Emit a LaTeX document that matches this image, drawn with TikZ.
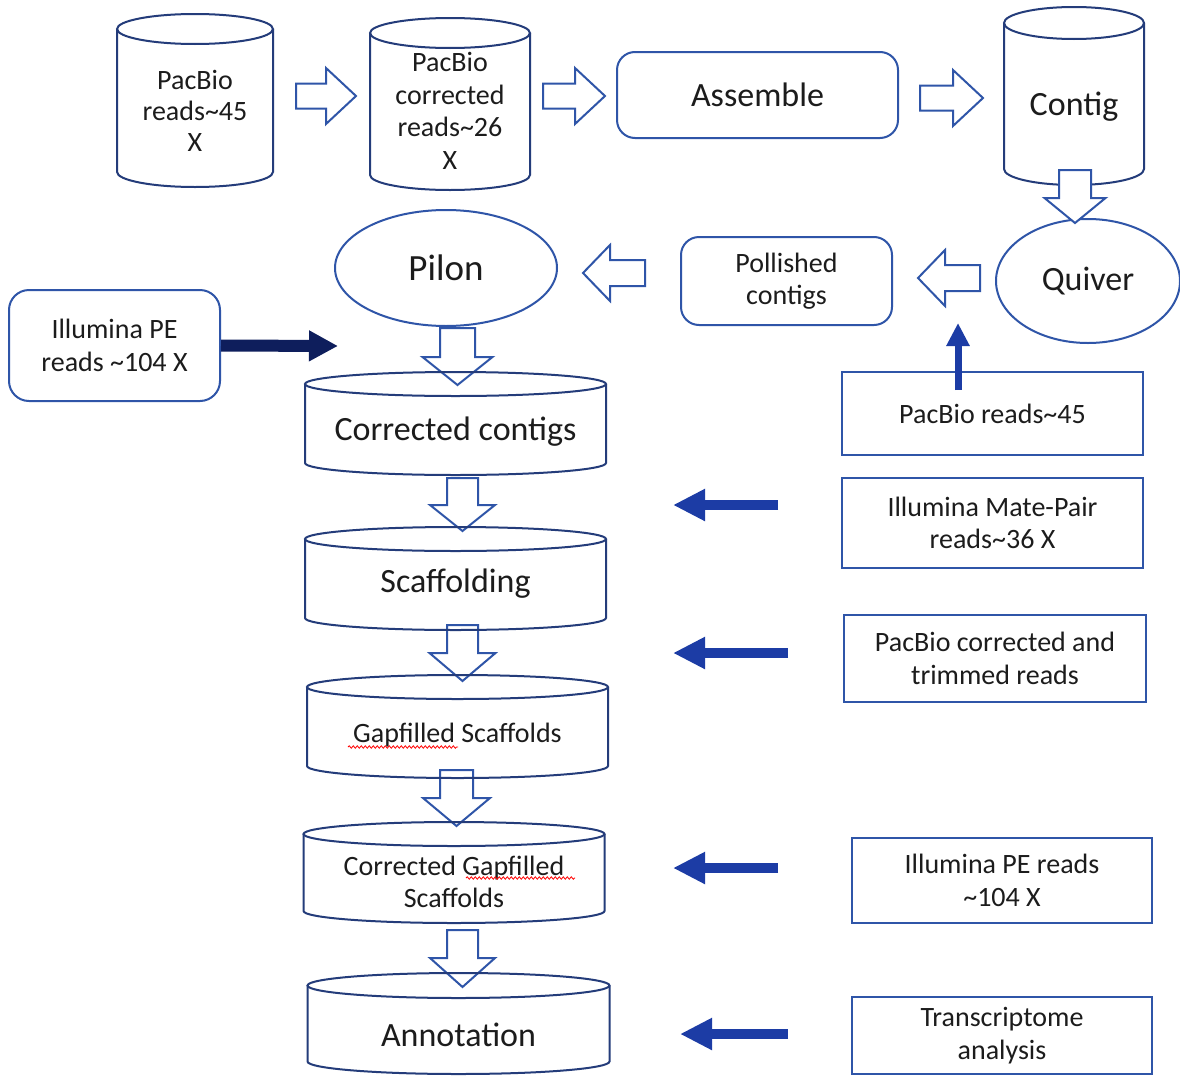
\documentclass[tikz,border=0pt]{standalone}
\usepackage{fontspec}
\setmainfont{Carlito}
\usetikzlibrary{arrows.meta,shapes.geometric,decorations.pathmorphing}
\definecolor{cylcol}{RGB}{36,60,122}
\definecolor{boxcol}{RGB}{47,85,168}
\definecolor{fillblue}{RGB}{28,60,165}
\definecolor{navy}{RGB}{14,30,92}
\definecolor{txtcol}{RGB}{28,28,28}
\newcommand\bigtxt{\fontsize{34}{40}\selectfont}
\newcommand\midtxt{\fontsize{28}{32.5}\selectfont}
\tikzset{
  cylline/.style={draw=cylcol, line width=2pt},
  txtnode/.style={align=center, text=txtcol, inner sep=0pt},
  hollow/.style={draw=boxcol, line width=2pt, fill=white, line join=miter},
  rbox/.style={draw=boxcol, line width=2pt, rounded corners=18pt, align=center, text=txtcol, inner sep=0pt},
  sbox/.style={draw=boxcol, line width=2pt, align=center, text=txtcol, inner sep=0pt, font=\midtxt},
  ellbox/.style={ellipse, draw=boxcol, line width=2pt, align=center, text=txtcol, inner sep=0pt},
  fatarrow/.style={draw=fillblue, line width=10pt, -{Triangle[width=30pt,length=32pt]}},
  navyarrow/.style={draw=navy, line width=12pt, -{Triangle[width=29pt,length=29pt]}},
  uparrow/.style={draw=fillblue, line width=7pt, -{Triangle[width=22pt,length=23pt]}},
  squiggle/.style={draw=red, line width=0.8pt, decorate, decoration={snake, amplitude=1.2pt, segment length=4pt}}
}
% cylinder: name, cx, ytop, ybot, half width, ry, text y, font, text
\newcommand\dbcyl[9]{%
  \draw[cylline] ({#2-#5},{#3+#6}) -- ({#2-#5},{#4-#6}) arc[start angle=180,end angle=360,x radius=#5pt,y radius=#6pt] -- ({#2+#5},{#3+#6});
  \draw[cylline] (#2,{#3+#6}) ellipse[x radius=#5pt,y radius=#6pt];
  \node[txtnode, font=#8] (#1) at (#2,#7) {#9};
}
% hollow arrows: right/left (tail x, tip x, yc, s, hh, hl)
\newcommand\harR[6]{\draw[hollow] (#1,{#3-#4}) -- ({#2-#6},{#3-#4}) -- ({#2-#6},{#3-#5}) -- (#2,#3) -- ({#2-#6},{#3+#5}) -- ({#2-#6},{#3+#4}) -- (#1,{#3+#4}) -- cycle;}
\newcommand\harL[6]{\draw[hollow] (#1,{#3-#4}) -- ({#2+#6},{#3-#4}) -- ({#2+#6},{#3-#5}) -- (#2,#3) -- ({#2+#6},{#3+#5}) -- ({#2+#6},{#3+#4}) -- (#1,{#3+#4}) -- cycle;}
% down: (tail y, tip y, xc, s, hh, hl)
\newcommand\harD[6]{\draw[hollow] ({#3-#4},#1) -- ({#3-#4},{#2-#6}) -- ({#3-#5},{#2-#6}) -- (#3,#2) -- ({#3+#5},{#2-#6}) -- ({#3+#4},{#2-#6}) -- ({#3+#4},#1) -- cycle;}
\begin{document}
\begin{tikzpicture}[x=1pt,y=-1pt]
\useasboundingbox (0,0) rectangle (1180,1076);
\fill[white] (0,0) rectangle (1180,1076);

% ---- hollow arrows drawn beneath the cylinders of the main column ----
\harR{296}{356}{96}{12.5}{28}{30}
\harR{543}{605}{96}{12.5}{28}{30}
\harR{920}{983}{98}{12.5}{28}{30}
\harL{980}{918}{278}{13}{28}{27}
\harL{645}{583}{273}{13}{28}{27}
\harD{328}{385}{457.5}{17.5}{35}{28}
\harD{478}{531}{462.5}{15.5}{32.5}{26}
\harD{625}{681}{462.5}{15.5}{33}{28}
\harD{770}{826}{456.5}{16.5}{33.5}{28}
\harD{930}{987}{462.5}{15.5}{32.5}{29}

% ---- top row ----
\dbcyl{pb1}{195}{14}{187}{78}{15}{111}{\fontsize{28}{31}\selectfont}{PacBio\\reads\textasciitilde45\\X}
\dbcyl{pb2}{450}{18}{190}{80}{15}{111}{\fontsize{28}{32.5}\selectfont}{PacBio\\corrected\\reads\textasciitilde26\\X}
\node[rbox, font=\bigtxt, minimum width=281pt, minimum height=86pt] (asm) at (757.5,95) {Assemble};
\dbcyl{contig}{1074}{7}{185}{70}{16}{107}{\bigtxt}{Contig}

% Contig -> Quiver
\node[ellbox, font=\bigtxt, minimum width=184pt, minimum height=124pt] (quiver) at (1088,281) {Quiver};
\harD{170}{223}{1075}{16}{30.5}{25}

% ---- second row ----
\node[rbox, font=\midtxt, minimum width=211pt, minimum height=88pt] (pol) at (786.5,281) {Pollished\\contigs};
\node[ellbox, font=\fontsize{37}{40}\selectfont, minimum width=222pt, minimum height=116pt] (pilon) at (446,268) {Pilon};
\node[rbox, font=\midtxt, rounded corners=20pt, minimum width=211pt, minimum height=111pt] (ilpe) at (114.5,345.5) {Illumina PE\\reads \textasciitilde104 X};

% ---- main column cylinders ----
\dbcyl{cc}{455.5}{372}{475}{150.5}{12}{432}{\bigtxt}{Corrected contigs}
\dbcyl{sc}{455.5}{527}{630}{150.5}{12}{584}{\bigtxt}{Scaffolding}
\dbcyl{gf}{457.5}{675}{778}{150.5}{12}{735}{\midtxt}{Gapfilled Scaffolds}
\dbcyl{cgf}{454}{822}{923}{150.5}{12}{882}{\midtxt}{Corrected Gapfilled\\Scaffolds}
\dbcyl{ann}{458.5}{973}{1074}{151}{12.5}{1035}{\bigtxt}{Annotation}

% spell-check underlines
\draw[squiggle] (348,747) -- (458,747);
\draw[squiggle] (466,878) -- (575,878);

% ---- right column boxes ----
\node[sbox, minimum width=301pt, minimum height=83pt] (pb45) at (992.5,413.5) {PacBio reads\textasciitilde45};
\node[sbox, minimum width=301pt, minimum height=90pt] (mp) at (992.5,523) {Illumina Mate-Pair\\reads\textasciitilde36 X};
\node[sbox, minimum width=302pt, minimum height=87pt] (pct) at (995,658.5) {PacBio corrected and\\trimmed reads};
\node[sbox, minimum width=300pt, minimum height=85pt] (ipe) at (1002,880.5) {Illumina PE reads\\\textasciitilde104 X};
\node[sbox, minimum width=300pt, minimum height=77pt] (tra) at (1002,1035.5) {Transcriptome\\analysis};

% ---- filled arrows ----
\coordinate (u1) at (958,390);
\coordinate (u2) at (958,323);
\draw[uparrow] (u1) -- (u2);
\coordinate (m1) at (778,505);   \coordinate (m2) at (673,505);
\coordinate (p1) at (788,653);   \coordinate (p2) at (673,653);
\coordinate (i1) at (778,868);   \coordinate (i2) at (673,868);
\coordinate (t1) at (788,1034);  \coordinate (t2) at (680,1034);
\draw[fatarrow] (m1) -- (m2);
\draw[fatarrow] (p1) -- (p2);
\draw[fatarrow] (i1) -- (i2);
\draw[fatarrow] (t1) -- (t2);
\coordinate (n2) at (338,346);
\draw[navyarrow] (ilpe.east) -- (n2);
\end{tikzpicture}
\end{document}
